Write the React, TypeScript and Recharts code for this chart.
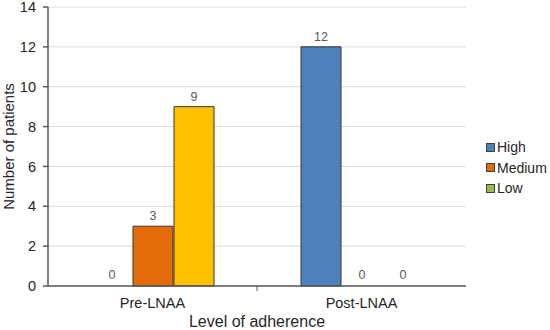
import React from "react";
import { BarChart, Bar, XAxis, YAxis, CartesianGrid, LabelList, Cell, Label, Rectangle } from "recharts";

const categories = ["Pre-LNAA", "Post-LNAA"];
const highValues = [0, 12];
const mediumValues = [3, 0];
const lowValues = [9, 0];
const yTicks = [0, 2, 4, 6, 8, 10, 12, 14];

const seriesNames = ["High", "Medium", "Low"];
const seriesColors = ["#4F81BD", "#E36C09", "#9BBB59"];
const lowBarColors = ["#FFC000", "#9BBB59"];

const data = categories.map((c, i) => ({
  name: c,
  High: highValues[i],
  Medium: mediumValues[i],
  Low: lowValues[i],
}));

const FONT = "Liberation Sans, Arial, sans-serif";
const LABEL_GRAY = "#595959";

const XTick = (props: any) => {
  const { x, y, payload, index } = props;
  return (
    <g>
      <text x={x} y={y + 14} textAnchor="middle" fill="#262626" fontSize={14.5} fontFamily={FONT}>
        {payload.value}
      </text>
      {index === 0 ? <line x1={x + 104.5} x2={x + 104.5} y1={y - 8} y2={y - 3} stroke="#595959" /> : null}
    </g>
  );
};

const BarShape = (props: any) => {
  const { value } = props;
  const v = Array.isArray(value) ? value[1] - value[0] : value;
  if (!v) return <g />;
  return <Rectangle {...props} />;
};

const ValueLabel = (props: any) => {
  const { x, y, width, value } = props;
  return (
    <text x={x + width / 2} y={y - 6} textAnchor="middle" fill={LABEL_GRAY} stroke="none" fontSize={12.5} fontFamily={FONT}>
      {value}
    </text>
  );
};

const LegendBox = () => (
  <div
    style={{
      position: "absolute",
      left: 486,
      top: 137,
      fontFamily: FONT,
      fontSize: 14,
      color: "#262626",
    }}
  >
    {seriesNames.map((n, i) => (
      <div key={n} style={{ display: "flex", alignItems: "center", height: 20.5 }}>
        <span
          style={{
            display: "inline-block",
            width: 7,
            height: 7,
            background: seriesColors[i],
            border: "1px solid #404040",
            marginRight: 2,
          }}
        />
        <span>{n}</span>
      </div>
    ))}
  </div>
);

export default function App() {
  return (
    <div style={{ position: "absolute", left: 0, top: 0, width: 550, height: 330, background: "#fff" }}>
      <BarChart
        width={550}
        height={330}
        data={data}
        margin={{ top: 7, right: 84, left: 0, bottom: 0 }}
        barSize={40}
        barGap={1}
      >
        <CartesianGrid vertical={false} stroke="#d9d9d9" />
        <XAxis
          dataKey="name"
          height={44}
          stroke="#595959"
          strokeWidth={1.5}
          tickLine={false}
          tick={<XTick />}
          interval={0}
        >
          <Label value="Level of adherence" position="insideBottom" offset={3} fill="#262626" fontSize={16} fontFamily={FONT} />
        </XAxis>
        <YAxis
          width={48}
          domain={[0, 14]}
          ticks={yTicks}
          interval={0}
          stroke="#595959"
          strokeWidth={1.5}
          tickSize={5}
          tickMargin={7}
          tick={{ fill: "#262626", fontSize: 14.5, fontFamily: FONT }}
        >
          <Label value="Number of patients" angle={-90} position="insideLeft" offset={9} fill="#262626" fontSize={15} fontFamily={FONT} style={{ textAnchor: "middle" }} />
        </YAxis>
        <Bar dataKey="High" fill={seriesColors[0]} stroke="#333" strokeWidth={1} minPointSize={1} shape={<BarShape />} isAnimationActive={false}>
          <LabelList dataKey="High" content={<ValueLabel />} />
        </Bar>
        <Bar dataKey="Medium" fill={seriesColors[1]} stroke="#333" strokeWidth={1} minPointSize={1} shape={<BarShape />} isAnimationActive={false}>
          <LabelList dataKey="Medium" content={<ValueLabel />} />
        </Bar>
        <Bar dataKey="Low" fill={seriesColors[2]} stroke="#333" strokeWidth={1} minPointSize={1} shape={<BarShape />} isAnimationActive={false}>
          {data.map((d, i) => (
            <Cell key={d.name} fill={lowBarColors[i]} />
          ))}
          <LabelList dataKey="Low" content={<ValueLabel />} />
        </Bar>
      </BarChart>
      <LegendBox />
    </div>
  );
}
